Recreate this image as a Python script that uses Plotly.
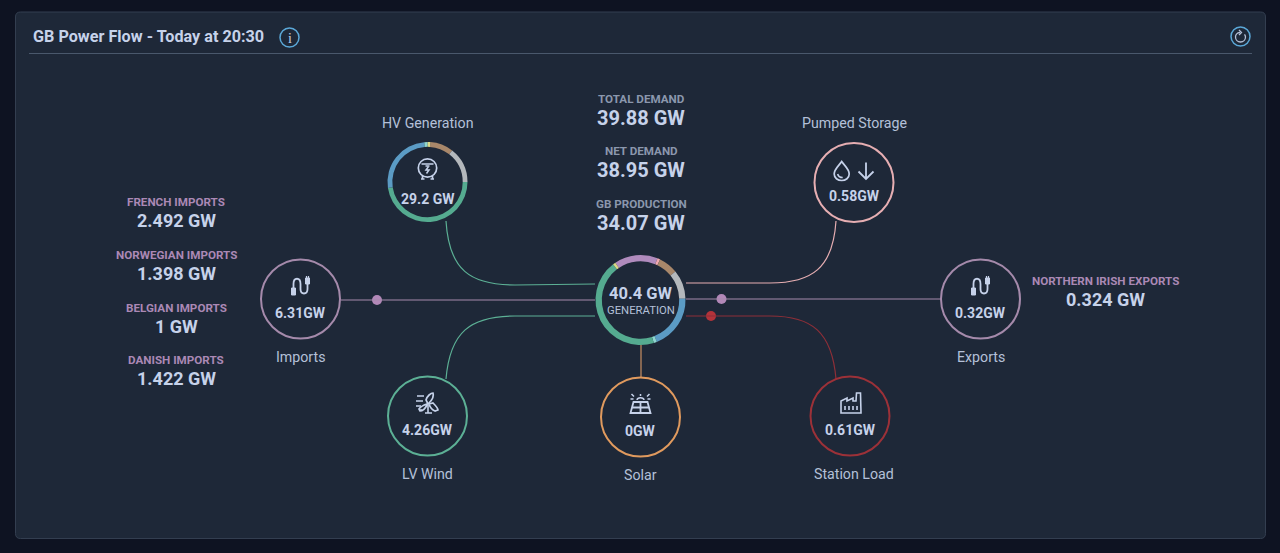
import re
import plotly.graph_objects as go

# ---- data ----
title_text = "GB Power Flow - Today at 20:30"
center_total = "40.4 GW"
center_caption = "GENERATION"
hv_total = "29.2 GW"
hv_title = "HV Generation"

mix_names = ["Imports", "Pumped", "Biomass", "Nuclear", "Gas", "Hydro", "Wind", "Other"]
mix_values = [6.31, 0.4, 2.8, 4.2, 7.9, 0.45, 17.9, 0.4]
mix_colors = ["#b08bbd", "#f0a8b0", "#a8876a", "#b4b8bc", "#5b9bc4", "#8fd6cf", "#55ab90", "#dbd986"]

hv_names = ["Biomass", "Nuclear", "Wind", "Gas", "Hydro", "Other"]
hv_values = [2.76, 4.2, 13.9, 7.6, 0.4, 0.3]
hv_colors = ["#a8876a", "#b4b8bc", "#55ab90", "#5b9bc4", "#8fd6cf", "#dbd986"]

node_names = ["Imports", "Pumped Storage", "Exports", "LV Wind", "Solar", "Station Load"]
node_values = ["6.31GW", "0.58GW", "0.32GW", "4.26GW", "0GW", "0.61GW"]

import_labels = ["FRENCH IMPORTS", "NORWEGIAN IMPORTS", "BELGIAN IMPORTS", "DANISH IMPORTS"]
import_values = ["2.492 GW", "1.398 GW", "1 GW", "1.422 GW"]
export_labels = ["NORTHERN IRISH EXPORTS"]
export_values = ["0.324 GW"]
demand_labels = ["TOTAL DEMAND", "NET DEMAND", "GB PRODUCTION"]
demand_values = ["39.88 GW", "38.95 GW", "34.07 GW"]

# ---- style ----
W, H = 1280, 553
TEXT = "#c6d2ea"
TEXT2 = "#b4c0d8"
PANEL = "#1e2838"
PURPLE = "#a58aab"
PINK = "#e6aeb2"
GREEN = "#5cb095"
ORANGE = "#e09a5e"
RED = "#9c3138"
BLUE = "#5ba8d8"
FONT = "Roboto"

shapes, ann = [], []


def text(x, y, s, size, color=TEXT, bold=False, anchor="center"):
    ann.append(dict(x=x, y=y, text=f"<b>{s}</b>" if bold else s, showarrow=False,
                    xanchor=anchor, yanchor="middle",
                    font=dict(family=FONT, size=size, color=color)))


def path(d, color, width=1.0, fill=None):
    shapes.append(dict(type="path", path=d, layer="above",
                       line=dict(color=color, width=width),
                       fillcolor=fill if fill else "rgba(0,0,0,0)"))


def local(cx, cy, d, color=TEXT, width=1.5, fill=None):
    nums = iter([cx, cy] * 1000)
    out = re.sub(r"-?\d+\.?\d*", lambda m: f"{float(m.group()) + next(nums):.2f}", d)
    path(out, color, width, fill)


def circle_d(r, x=0, y=0):
    k = 0.5523 * r
    return (f"M {x-r} {y} C {x-r} {y-k} {x-k} {y-r} {x} {y-r} "
            f"C {x+k} {y-r} {x+r} {y-k} {x+r} {y} "
            f"C {x+r} {y+k} {x+k} {y+r} {x} {y+r} "
            f"C {x-k} {y+r} {x-r} {y+k} {x-r} {y} Z")


def ring(cx, cy, r, color, width=2):
    shapes.append(dict(type="circle", x0=cx - r, x1=cx + r, y0=cy - r, y1=cy + r,
                       line=dict(color=color, width=width), fillcolor="rgba(0,0,0,0)", layer="above"))


def rrect(x0, y0, x1, y1, r):
    return (f"M {x0+r} {y0} L {x1-r} {y0} Q {x1} {y0} {x1} {y0+r} L {x1} {y1-r} Q {x1} {y1} {x1-r} {y1} "
            f"L {x0+r} {y1} Q {x0} {y1} {x0} {y1-r} L {x0} {y0+r} Q {x0} {y0} {x0+r} {y0} Z")


shapes.append(dict(type="path", path=rrect(15.5, 12, 1265.5, 538.5, 5), layer="below",
                   line=dict(color="#333e50", width=1), fillcolor=PANEL))
shapes.append(dict(type="line", x0=29, x1=1252, y0=53.5, y1=53.5, layer="below",
                   line=dict(color="#4a586c", width=1)))

# connectors
path("M 446 221 C 449 270 470 285 515 285 L 595 284", GREEN, 1.2)
path("M 836 221 C 833 268 812 283 770 283 L 686 283", PINK, 1.2)
path("M 446 379 C 450 332 470 316 515 316 L 595 316", GREEN, 1.2)
path("M 836 379 C 832 332 812 316 770 316 L 686 316", "#8e2f38", 1.2)
path("M 641 345 L 641 377", "#c98f63", 1.2)
path("M 341 300 L 595 300", PURPLE, 1.2)
path("M 686 299 L 941 299", PURPLE, 1.2)

# nodes
nodes_xy = [(300.5, 299), (854, 182.5), (980.5, 299), (427.5, 416), (640.5, 417), (850, 416)]
node_cols = [PURPLE, PINK, PURPLE, GREEN, ORANGE, RED]
label_y = [356.5, 123, 356.5, 474, 475, 474]
label_x = [300.5, 854, 980.5, 427.5, 640.5, 853.5]
for (cx, cy), c, n, v, ly, lx in zip(nodes_xy, node_cols, node_names, node_values, label_y, label_x):
    ring(cx, cy, 39.5, c)
    text(cx, cy + 13.5, v, 14, TEXT, True)
    text(lx, ly, n, 14.2, TEXT2)
text(427.5, 123, hv_title, 14.2, TEXT2)

# header
text(31, 36.5, title_text, 16.2, TEXT, True, "left")
ring(289.5, 37.5, 9.5, BLUE, 1.5)
ann.append(dict(x=289.5, y=38, text="i", showarrow=False, font=dict(family="Liberation Serif", size=14, color=TEXT)))
ring(1240.5, 36.5, 9.5, BLUE, 1.5)
local(1240.5, 37, "M -0.5 -4.5 C -3.8 -4.5 -5 -1.8 -5 0 C -5 2.8 -2.8 5 0 5 C 2.8 5 5 2.8 5 0 C 5 -1 4.6 -1.8 4 -2.6", TEXT2, 1.3)
local(1240.5, 37, "M -1.5 -7 L 1 -4.5 L -1.5 -2", TEXT2, 1.3)

# side and centre texts
for i, (l, v) in enumerate(zip(import_labels, import_values)):
    text(176, 202 + i * 52.8, l, 11.65, "#ab88b5", True)
    text(176, 220.5 + i * 52.8, v, 18, TEXT, True)
for l, v in zip(export_labels, export_values):
    text(1105, 281, l, 11.65, "#ab88b5", True)
    text(1105, 299.5, v, 18, TEXT, True)
for i, (l, v) in enumerate(zip(demand_labels, demand_values)):
    text(641, 98.5 + i * 52.8, l, 11.65, "#8b97ad", True)
    text(641, 117.5 + i * 52.8, v, 20, TEXT, True)

text(641, 293.5, center_total, 16.5, TEXT, True)
text(641, 310.5, center_caption, 11.3, TEXT2)
text(428, 198.5, hv_total, 14, TEXT, True)

# icons
# HV tower
cx, cy = 427.5, 168
local(cx, cy, circle_d(9.2), TEXT, 1.7)
local(cx, cy, "M -6 -4 L 6 -4 M -2 -2 L 2 -2", TEXT, 1.5)
local(cx, cy, "M 1 -1.5 L -1.5 2 L 1.5 2 L -1 5.5", TEXT, 1.5)
local(cx, cy, "M -5 8 L -5 11 M 5 8 L 5 11 M -6.5 11 L -3 11 M 3 11 L 6.5 11", TEXT, 1.7)
# drop and arrow
cx, cy = 841.7, 171
local(cx, cy, "M 0 -9.5 C 3 -5 7.5 -2 7.5 3 C 7.5 7 4 9.5 0 9.5 C -4 9.5 -7.5 7 -7.5 3 C -7.5 -2 -3 -5 0 -9.5 Z", TEXT, 1.7)
local(cx, cy, "M -4 3 C -3.5 5.5 -1.5 6.5 1 6.5", TEXT, 1.6)
local(866, 171, "M 0 -8.5 L 0 8 M -7.5 0.5 L 0 8 L 7.5 0.5", TEXT, 1.8)
# plug (imports / exports)
for cx, cy in [(300.5, 286), (980.5, 286)]:
    local(cx, cy, "M -7 3 L -7 -2 C -7 -9 0 -9 0 -2 L 0 3 C 0 9 7 9 7 3 L 7 -3", TEXT, 1.8)
    local(cx, cy, "M -9 2 L -5 2 L -5 9 L -9 9 Z", TEXT, 1, TEXT)
    local(cx, cy, "M 5 -8 L 9 -8 L 9 -2 L 5 -2 Z", TEXT, 1, TEXT)
    local(cx, cy, "M 6 -10 L 6 -8 M 8 -10 L 8 -8", TEXT, 1.2)
# wind
cx, cy = 428, 403
local(cx, cy, "M 0 1 L -2 -3 C -1 -7 3 -10 5 -10 C 6 -7 4 -3 1 0 Z", TEXT, 1.7)
local(cx, cy, "M 1 1 L 5 0 C 7 2 10 5 10 7 L 7 8 C 4 7 2 4 1 1 Z", TEXT, 1.7)
local(cx, cy, "M -1 2 C -3 6 -6 8 -8 8 L -9 6 C -7 3 -4 2 -1 1 Z", TEXT, 1.7)
local(cx, cy, "M 0 2 L 0 10 M -3 10 L 4 10", TEXT, 1.6)
local(cx, cy, "M -11 -7 L -4 -7 M -12 -2 L -5 -2 M -12 3 L -7 3 M -9 7 L -6 7", TEXT, 1.5)
# solar
cx, cy = 640.5, 404
local(cx, cy, "M -7 -2 L 7 -2 L 10 9 L -10 9 Z M -8.5 3.5 L 8.5 3.5 M 0 -2 L 0 9", TEXT, 1.8)
local(cx, cy, "M -3.5 -4 C -3 -7 3 -7 3.5 -4 M -9 -10 L -6.5 -7.5 M 9 -10 L 6.5 -7.5 M 0 -10 L 0 -8 M -10 -5 L -7 -5 M 10 -5 L 7 -5", TEXT, 1.5)
# factory
cx, cy = 851, 403
local(cx, cy, "M -10 10 L -10 -2 L -4 -5 L -4 -2 L 2 -5 L 2 -2 L 5 -2 L 5.5 -10 L 9.5 -10 L 10 10 Z", TEXT, 1.6)
local(cx, cy, "M -6 3 L -6 7 M -2 3 L -2 7 M 2 3 L 2 7 M 6 3 L 6 7", TEXT, 1.6)

fig = go.Figure()
fig.add_trace(go.Pie(
    labels=mix_names, values=mix_values, marker=dict(colors=mix_colors, line=dict(width=0)),
    hole=0.86, sort=False, direction="clockwise", rotation=-34, textinfo="none", showlegend=False,
    domain=dict(x=[(640.5 - 45) / W, (640.5 + 45) / W], y=[1 - (300 + 45) / H, 1 - (300 - 45) / H])))
fig.add_trace(go.Pie(
    labels=hv_names, values=hv_values, marker=dict(colors=hv_colors, line=dict(width=0)),
    hole=0.88, sort=False, direction="clockwise", rotation=4, textinfo="none", showlegend=False,
    domain=dict(x=[(427.5 - 40) / W, (427.5 + 40) / W], y=[1 - (182 + 40) / H, 1 - (182 - 40) / H])))
fig.add_trace(go.Scatter(x=[377, 721.5, 711], y=[300, 299, 316], mode="markers", showlegend=False,
                         marker=dict(size=10, color=["#b288b8", "#b288b8", "#b3333a"]), hoverinfo="skip"))

fig.update_layout(
    width=W, height=H, margin=dict(l=0, r=0, t=0, b=0), autosize=False,
    paper_bgcolor="#0e1322", plot_bgcolor="rgba(0,0,0,0)",
    xaxis=dict(range=[0, W], visible=False, fixedrange=True),
    yaxis=dict(range=[H, 0], visible=False, fixedrange=True),
    shapes=shapes, annotations=ann, font=dict(family=FONT),
)
fig.write_html("out.html", config=dict(displayModeBar=False),
               post_script="document.body.style.margin='0';document.body.style.overflow='hidden';")
